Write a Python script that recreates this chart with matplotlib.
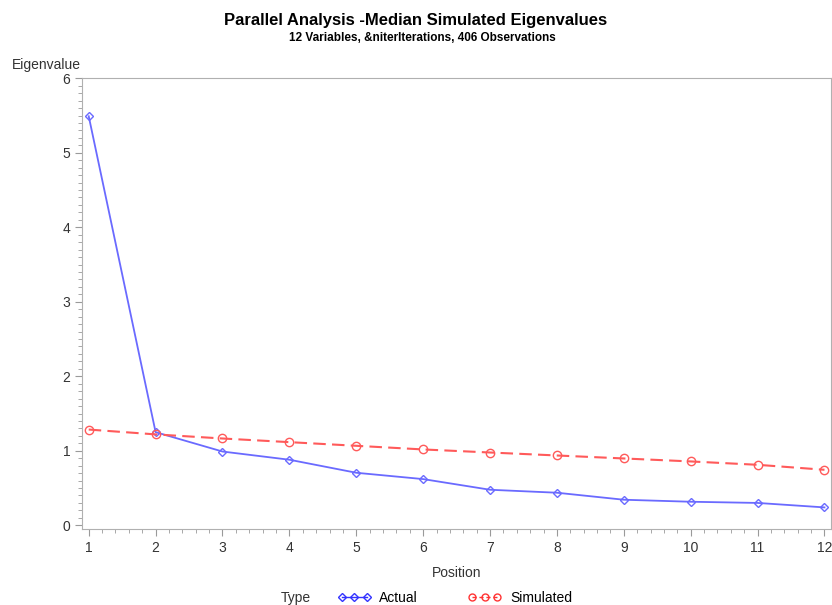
import matplotlib.pyplot as plt
from matplotlib.lines import Line2D
from matplotlib.ticker import MultipleLocator

plt.rcParams["font.family"] = ["Liberation Sans", "DejaVu Sans"]

position = [1, 2, 3, 4, 5, 6, 7, 8, 9, 10, 11, 12]
actual = [5.49, 1.25, 0.99, 0.88, 0.705, 0.62, 0.477, 0.437, 0.343, 0.316, 0.30, 0.24]
simulated = [1.285, 1.22, 1.165, 1.116, 1.067, 1.018, 0.977, 0.937, 0.897, 0.857, 0.812, 0.745]

blue = "#6a6aff"
red = "#ff5a5a"
gray = "#9a9a9a"

fig = plt.figure(figsize=(8.32, 6.05), dpi=100)
ax = fig.add_axes([0.0986, 0.1256, 0.9004, 0.745])

ax.plot(position, actual, color=blue, linewidth=1.3, marker="D", markersize=4,
        markerfacecolor="none", markeredgecolor=blue, markeredgewidth=1)
ax.plot(position, simulated, color=red, linewidth=1.5, linestyle=(0, (6, 3)),
        marker="o", markersize=6, markerfacecolor="none", markeredgecolor=red,
        markeredgewidth=1)

ax.set_xlim(0.9, 12.1)
ax.set_ylim(-0.05, 6.0)
ax.set_xticks(position)
ax.set_yticks(range(0, 7))
ax.xaxis.set_minor_locator(MultipleLocator(0.2))
ax.yaxis.set_minor_locator(MultipleLocator(0.1))
ax.tick_params(which="both", color=gray, labelsize=10, labelcolor="#333333")
ax.tick_params(which="major", length=5)
ax.tick_params(which="minor", length=3)
for s in ax.spines.values():
    s.set_color("#b0b0b0")

ax.set_xlabel("Position", fontsize=10, color="#333333", labelpad=8)
fig.text(0.0145, 0.893, "Eigenvalue", fontsize=10, color="#333333", va="center")

fig.text(0.5, 0.966, "Parallel Analysis -Median Simulated Eigenvalues",
         ha="center", va="center", fontsize=12, fontweight="bold")
fig.text(0.508, 0.937, "12 Variables, &niterIterations, 406 Observations",
         ha="center", va="center", fontsize=8.5, fontweight="bold")

handles = [
    Line2D([], [], color="#3333ff", linewidth=1, marker="D", markersize=4,
           markerfacecolor="none"),
    Line2D([], [], color="#ff3333", linewidth=1, linestyle=(0, (3, 2)),
           marker="o", markersize=5, markerfacecolor="none"),
]
fig.text(0.338, 0.012, "Type", fontsize=10, color="#333333", va="center")
fig.legend(handles, ["Actual", "Simulated"], loc="center left",
           bbox_to_anchor=(0.406, 0.012), ncol=2, frameon=False, numpoints=3,
           handlelength=2.4, handletextpad=0.6, columnspacing=3.6,
           fontsize=10, borderpad=0, borderaxespad=0)

fig.savefig("out.png", dpi=100)
